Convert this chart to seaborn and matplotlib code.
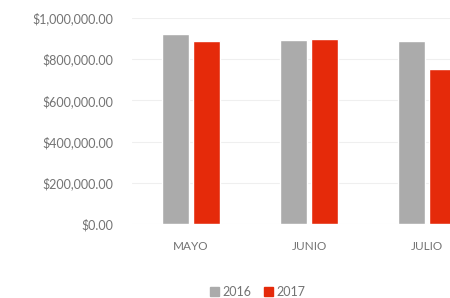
import pandas as pd
import matplotlib
matplotlib.use("Agg")
import matplotlib.pyplot as plt
import seaborn as sns
from matplotlib.ticker import FuncFormatter

meses = ["MAYO", "JUNIO", "JULIO"]
ventas_2016 = [922000, 893000, 888000]
ventas_2017 = [888000, 898000, 752000]
anios = ["2016", "2017"]

df = pd.DataFrame({
    "mes": meses * 2,
    "anio": [anios[0]] * 3 + [anios[1]] * 3,
    "ventas": ventas_2016 + ventas_2017,
})

sns.set_style("white")
plt.rcParams["font.family"] = ["Lato", "DejaVu Sans"]

fig = plt.figure(figsize=(4.5, 2.98), dpi=100)
# the axes run past the right edge on purpose (the source is cropped)
ax = fig.add_axes([132 / 450, 74 / 298, 354 / 450, 206 / 298])

sns.barplot(data=df, x="mes", y="ventas", hue="anio",
            palette={"2016": "#ABABAB", "2017": "#E52A0A"},
            width=0.53, gap=0.12, saturation=1, ax=ax)

ax.set_ylim(0, 1000000)
ax.set_yticks([0, 200000, 400000, 600000, 800000, 1000000])
ax.yaxis.set_major_formatter(FuncFormatter(lambda v, p: f"${v:,.2f}"))
ax.grid(axis="y", color="#EFEFEF", linewidth=0.8)
ax.set_axisbelow(True)
for s in ax.spines.values():
    s.set_visible(False)
ax.tick_params(axis="y", length=0, pad=13.5, labelsize=9, labelcolor="#737373")
ax.tick_params(axis="x", length=0, pad=12, labelsize=8.5, labelcolor="#737373")
ax.set_xlabel("")
ax.set_ylabel("")

ax.legend_.remove()
handles = [plt.Rectangle((0, 0), 1, 1, color=c) for c in ["#ABABAB", "#E52A0A"]]
fig.legend(handles, anios, loc="center", bbox_to_anchor=(258 / 450, 1 - 292 / 298),
           ncol=2, frameon=False, fontsize=9, handlelength=0.7, handleheight=0.7,
           handletextpad=0.3, columnspacing=1.0, labelcolor="#737373")

fig.savefig("out.png", dpi=100)
